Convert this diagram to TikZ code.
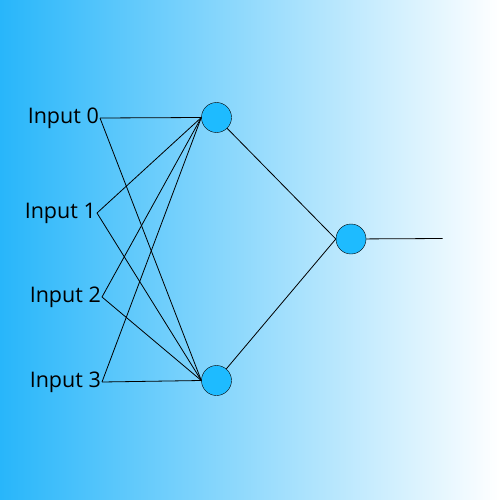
\documentclass[tikz,border=0pt]{standalone}
\usepackage{fontspec}
\setmainfont{Open Sans}
\definecolor{bgblue}{RGB}{40,182,250}
\definecolor{neuronblue}{RGB}{30,187,255}
\tikzset{
  neuron/.style={circle, draw=black, fill=neuronblue, minimum size=30pt, inner sep=0pt},
  inlabel/.style={anchor=east, inner sep=1pt, font=\fontsize{21.5}{26}\selectfont},
  wire/.style={draw=black, line width=0.8pt}
}
\begin{document}
\begin{tikzpicture}[x=1pt, y=-1pt]

    % --- Background (blue to white, left to right) ---
    \shade[left color=bgblue, right color=white] (0,0) rectangle (500,500);
    \useasboundingbox (0,0) rectangle (500,500);

    % --- Input labels ---
    % The east anchor is where the wires start
    \node[inlabel] (in0) at (100,118) {Input 0};
    \node[inlabel] (in1) at (97,213) {Input 1};
    \node[inlabel] (in2) at (102,297) {Input 2};
    \node[inlabel] (in3) at (102,382) {Input 3};

    % --- Neurons ---
    \node[neuron] (h1) at (216.5,117.5) {};
    \node[neuron] (h2) at (216.5,380.5) {};
    \node[neuron] (out) at (351,239) {};
    \coordinate (end) at (442.5,238.5);

    % --- Input layer to hidden layer ---
    \draw[wire] (in0.east) -- (h1.west);
    \draw[wire] (in0.east) -- (h2.west);
    \draw[wire] (in1.east) -- (h1.west);
    \draw[wire] (in1.east) -- (h2.west);
    \draw[wire] (in2.east) -- (h1.west);
    \draw[wire] (in2.east) -- (h2.west);
    \draw[wire] (in3.east) -- (h1.west);
    \draw[wire] (in3.east) -- (h2.west);

    % --- Hidden layer to output ---
    \draw[wire] (h1) -- (out.west);
    \draw[wire] (h2) -- (out.west);
    \draw[wire] (out) -- (end);

\end{tikzpicture}
\end{document}
